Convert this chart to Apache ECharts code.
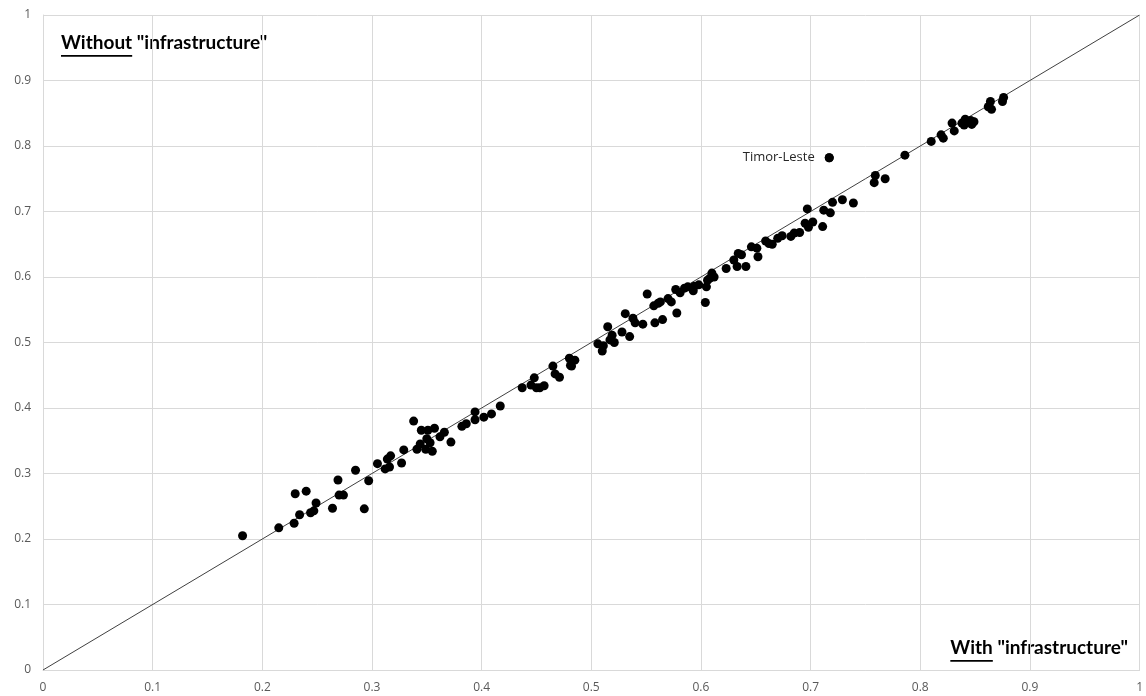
<!DOCTYPE html>
<html>
<head>
<meta charset="utf-8">
<script src="https://cdn.jsdelivr.net/npm/echarts@6/dist/echarts.min.js"></script>
<style>html,body{margin:0;padding:0;background:#fff}#c{width:1146px;height:696px}</style>
</head>
<body>
<div id="c"></div>
<script>
// "With infrastructure" index (x)
const withInfra = [
0.182,0.215,0.229,0.230,0.234,0.240,0.244,0.247,0.249,0.264,0.269,0.270,0.274,0.285,0.293,0.297,0.305,0.312,0.316,0.314,
0.317,0.327,0.329,0.338,0.341,0.344,0.345,0.349,0.351,0.350,0.353,0.355,0.357,0.362,0.366,0.372,0.382,0.386,0.394,0.394,
0.402,0.409,0.417,0.437,0.448,0.445,0.450,0.453,0.457,0.465,0.467,0.471,0.480,0.482,0.485,0.481,
0.506,0.510,0.511,0.515,0.517,0.519,0.521,0.528,0.531,0.535,0.538,0.540,0.547,0.551,0.558,0.557,0.561,0.563,0.565,0.570,
0.573,0.578,0.577,0.581,0.585,0.588,0.593,0.594,0.598,0.604,0.605,0.608,0.606,0.610,0.612,0.623,0.630,0.634,0.637,0.633,
0.641,0.646,0.651,0.652,0.659,0.662,0.665,0.670,0.674,0.682,0.685,0.690,0.695,0.698,0.702,0.697,0.711,0.712,0.718,0.720,
0.729,0.739,0.717,0.758,0.759,0.768,0.786,0.810,0.819,0.821,0.829,0.831,0.838,0.840,0.841,0.843,0.846,0.849,0.847,0.862,
0.864,0.865,0.875,0.876
];
// "Without infrastructure" index (y)
const withoutInfra = [
0.205,0.217,0.224,0.269,0.237,0.273,0.240,0.243,0.255,0.247,0.290,0.267,0.267,0.305,0.246,0.289,0.315,0.307,0.310,0.322,
0.327,0.316,0.336,0.380,0.337,0.345,0.366,0.337,0.366,0.353,0.347,0.334,0.369,0.356,0.363,0.348,0.372,0.376,0.382,0.394,
0.386,0.391,0.403,0.431,0.446,0.435,0.431,0.431,0.434,0.464,0.452,0.447,0.476,0.464,0.473,0.465,
0.498,0.487,0.495,0.524,0.504,0.511,0.500,0.516,0.544,0.509,0.537,0.530,0.528,0.574,0.530,0.556,0.560,0.562,0.535,0.567,
0.562,0.545,0.581,0.576,0.583,0.585,0.579,0.586,0.588,0.561,0.585,0.598,0.595,0.606,0.600,0.613,0.626,0.636,0.634,0.616,
0.616,0.646,0.644,0.631,0.655,0.651,0.650,0.659,0.663,0.662,0.667,0.668,0.682,0.676,0.684,0.704,0.677,0.702,0.698,0.714,
0.718,0.713,0.782,0.744,0.755,0.750,0.786,0.807,0.817,0.812,0.835,0.823,0.835,0.832,0.841,0.837,0.839,0.837,0.833,0.860,
0.868,0.856,0.868,0.874
];
const labelledIndex = 118; // Timor-Leste
const labelledName = "Timor-Leste";
const xTitleStrong = "With";
const yTitleStrong = "Without";
const titleRest = '"infrastructure"';

const points = withInfra.map((x,i)=>[x, withoutInfra[i]]);

const chart = echarts.init(document.getElementById('c'), null, {renderer:'canvas'});
const font = 'bold 19px Lato';
const ctx = document.createElement('canvas').getContext('2d');
ctx.font = font;
const wStrong = ctx.measureText(yTitleStrong).width;
const wStrong2 = ctx.measureText(xTitleStrong).width;
const wSpace = ctx.measureText(' ').width;
const wRest = ctx.measureText(titleRest).width;

const axisLabel = {color:'#595959', fontSize:12, fontFamily:'Open Sans', margin:12};
chart.setOption({
  animation:false,
  grid:{left:43, right:3, top:15, bottom:26, containLabel:false},
  xAxis:{type:'value', min:0, max:1, interval:0.1,
    axisLine:{show:true, lineStyle:{color:'#d9d9d9'}}, axisTick:{show:false},
    splitLine:{show:true, lineStyle:{color:'#d9d9d9', width:1}},
    axisLabel:Object.assign({formatter:v=>String(+v.toFixed(1))}, axisLabel)},
  yAxis:{type:'value', min:0, max:1, interval:0.1,
    axisLine:{show:true, lineStyle:{color:'#d9d9d9'}}, axisTick:{show:false},
    splitLine:{show:true, lineStyle:{color:'#d9d9d9', width:1}},
    axisLabel:Object.assign({formatter:v=>String(+v.toFixed(1))}, axisLabel)},
  series:[
    {type:'line', data:[[0,0],[1,1]], symbol:'none', silent:true, z:1,
     lineStyle:{color:'#404040', width:1}},
    {type:'scatter', data:points, symbol:'circle', symbolSize:9, z:2,
     itemStyle:{color:'#000', opacity:1}},
    {type:'scatter', data:[points[labelledIndex]], symbol:'circle', symbolSize:9, z:3,
     itemStyle:{color:'#000', opacity:1},
     label:{show:true, formatter:labelledName, position:'left', distance:10,
       color:'#262626', fontSize:13, fontFamily:'Open Sans'}}
  ],
  graphic:[
    {type:'text', left:61, top:33, style:{text:yTitleStrong, font:font, fill:'#000'}},
    {type:'rect', left:61, top:55, shape:{width:wStrong, height:1.8}, style:{fill:'#000'}},
    {type:'text', left:61+wStrong+wSpace, top:33, style:{text:titleRest, font:font, fill:'#000'}},
    {type:'text', right:18+wRest+wSpace, top:638, style:{text:xTitleStrong, font:font, fill:'#000'}},
    {type:'rect', right:18+wRest+wSpace, top:660, shape:{width:wStrong2, height:1.8}, style:{fill:'#000'}},
    {type:'text', right:18, top:638, style:{text:titleRest, font:font, fill:'#000'}}
  ]
});
</script>
</body>
</html>
